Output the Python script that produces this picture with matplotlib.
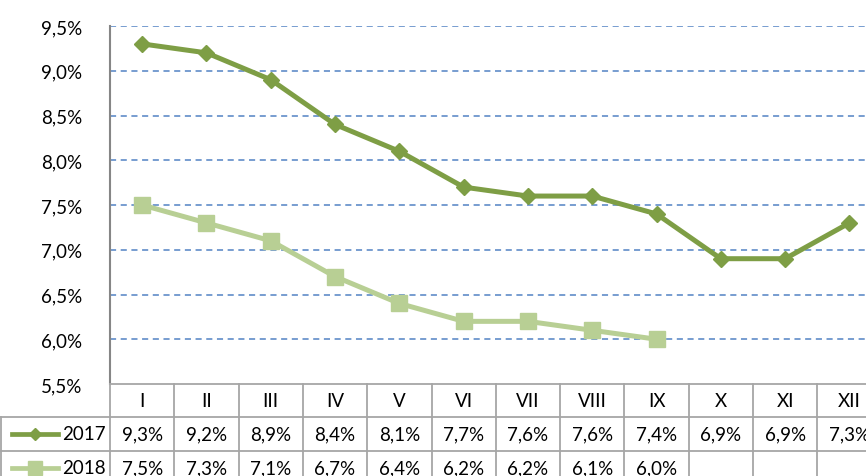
import matplotlib.pyplot as plt
from matplotlib.lines import Line2D

months = ["I", "II", "III", "IV", "V", "VI", "VII", "VIII", "IX", "X", "XI", "XII"]
y2017 = [9.3, 9.2, 8.9, 8.4, 8.1, 7.7, 7.6, 7.6, 7.4, 6.9, 6.9, 7.3]
y2018 = [7.5, 7.3, 7.1, 6.7, 6.4, 6.2, 6.2, 6.1, 6.0]
yticks = [5.5, 6.0, 6.5, 7.0, 7.5, 8.0, 8.5, 9.0, 9.5]

c17 = "#7E9E45"
c18 = "#B8CF94"
grid_c = "#5283C4"
tab_c = "#A6A6A6"
font = ["Lato", "DejaVu Sans"]
plt.rcParams['font.family'] = font
fs = 13.5

W, H = 866, 477
fig = plt.figure(figsize=(W / 100, H / 100), dpi=100)
# axes: left 110px, top 27px, bottom 385px, columns 64.3px wide
ax_l, ax_t, ax_b, colw = 110, 27, 385, 64.3
ax = fig.add_axes([ax_l / W, (H - ax_b) / H, 12 * colw / W, (ax_b - ax_t) / H])

x = list(range(1, 13))
ax.plot(x, y2017, color=c17, lw=3.6, marker="D", ms=8, zorder=3)
ax.plot(x[:len(y2018)], y2018, color=c18, lw=3.6, marker="s", ms=11.5, zorder=3)

ax.set_xlim(0.5, 12.5)
ax.set_ylim(5.5, 9.5)
ax.set_yticks(yticks)
ax.set_yticklabels([f"{v:.1f}%".replace(".", ",") for v in yticks], fontsize=fs)
ax.set_xticks([])
ax.tick_params(axis="y", length=0, pad=20)
for v in yticks[1:]:
    ax.axhline(v, color=grid_c, lw=1.1, ls=(0, (4, 3)), zorder=1)
for s in ["top", "right", "bottom"]:
    ax.spines[s].set_visible(False)
ax.spines["left"].set_color("#868686")
ax.spines["left"].set_linewidth(1.5)


# data table below the axes, drawn in figure pixel coords
def fx(px):
    return px / W


def fy(py):
    return (H - py) / H


rows = [385, 418, 452, 486]
right = ax_l + 12 * colw
lk = dict(color=tab_c, lw=1.3, transform=fig.transFigure, clip_on=False)
fig.add_artist(Line2D([fx(ax_l), fx(right)], [fy(rows[0])] * 2, **lk))
for r in rows[1:]:
    fig.add_artist(Line2D([fx(1), fx(right)], [fy(r)] * 2, **lk))
fig.add_artist(Line2D([fx(1), fx(1)], [fy(rows[1]), fy(rows[3])], **lk))
for i in range(13):
    xp = ax_l + i * colw
    fig.add_artist(Line2D([fx(xp)] * 2, [fy(rows[0]), fy(rows[3])], **lk))

for i, m in enumerate(months):
    xc = ax_l + (i + 0.5) * colw
    fig.text(fx(xc), fy((rows[0] + rows[1]) / 2), m, ha="center", va="center", fontsize=fs)

for series, vals, col, mk, ms, r0 in [("2017", y2017, c17, "D", 6.5, 1), ("2018", y2018, c18, "s", 10.5, 2)]:
    yc = fy((rows[r0] + rows[r0 + 1]) / 2)
    fig.add_artist(Line2D([fx(12), fx(58)], [yc, yc], color=col, lw=3.4, transform=fig.transFigure))
    fig.add_artist(Line2D([fx(35)], [yc], color=col, marker=mk, ms=ms, transform=fig.transFigure))
    fig.text(fx(106), yc, series, ha="right", va="center", fontsize=fs)
    for i, v in enumerate(vals):
        xc = ax_l + (i + 0.5) * colw
        fig.text(fx(xc), yc, f"{v:.1f}%".replace(".", ","), ha="center", va="center", fontsize=fs)

fig.savefig("out.png", dpi=100)
